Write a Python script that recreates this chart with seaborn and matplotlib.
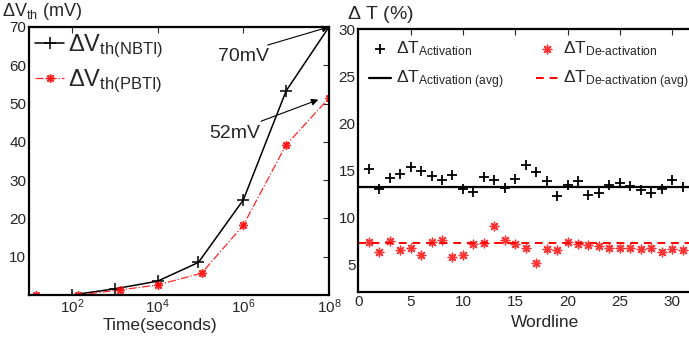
import numpy as np
import pandas as pd
import matplotlib
matplotlib.use("Agg")
import matplotlib.pyplot as plt
import seaborn as sns

# ---------------------------------------------------------
# Données
# ---------------------------------------------------------

time_nbti = [1e1, 1e2, 1e3, 1e4, 9e4, 1e6, 1e7, 1e8]
dvth_nbti = [0, 0, 1.6, 3.6, 8.5, 24.8, 53.3, 70]

time_pbti = [15, 140, 1300, 1e4, 1.07e5, 1e6, 1e7, 1e8]
dvth_pbti = [0, 0, 1.3, 2.6, 5.7, 18.2, 39.2, 51.4]

wordline = list(range(1, 32))
dt_act = [15.1, 13.0, 14.2, 14.6, 15.3, 14.9, 14.4, 13.9, 14.5, 13.0,
          12.7, 14.3, 14.0, 13.1, 14.1, 15.5, 14.8, 13.8, 12.3, 13.4,
          13.8, 12.4, 12.6, 13.4, 13.6, 13.3, 12.9, 12.6, 13.0, 14.0, 13.2]
dt_deact = [7.3, 6.3, 7.5, 6.5, 6.7, 6.0, 7.3, 7.6, 5.8, 6.0,
            7.1, 7.2, 9.1, 7.6, 7.1, 6.7, 5.1, 6.6, 6.5, 7.3,
            7.1, 7.0, 6.9, 6.7, 6.7, 6.7, 6.6, 6.7, 6.3, 6.6, 6.5]
dt_act_avg = 13.25
dt_deact_avg = 7.2

df_left = pd.DataFrame({"t_n": time_nbti, "v_n": dvth_nbti,
                        "t_p": time_pbti, "v_p": dvth_pbti})
df_right = pd.DataFrame({"wl": wordline, "act": dt_act, "deact": dt_deact})

# ---------------------------------------------------------
# Style
# ---------------------------------------------------------

sns.set_style("white")
plt.rcParams["font.family"] = ["Liberation Sans", "DejaVu Sans"]
plt.rcParams["mathtext.fontset"] = "custom"
plt.rcParams["mathtext.rm"] = "Liberation Sans"
plt.rcParams["mathtext.it"] = "Liberation Sans"
plt.rcParams["mathtext.bf"] = "Liberation Sans"

fig = plt.figure(figsize=(6.89, 3.41), dpi=100)
ax1 = fig.add_axes([0.042, 0.135, 0.4355, 0.786])
ax2 = fig.add_axes([0.520, 0.143, 0.492, 0.771])

tick_fs = 11
asterisk = (8, 2, 0)   # marqueur '*' façon MATLAB

# ---------------------------------------------------------
# Graphe de gauche : ΔVth en fonction du temps
# ---------------------------------------------------------

ax1.set_xscale("log")
sns.lineplot(data=df_left, x="t_n", y="v_n", ax=ax1, color="black",
             marker="+", markersize=8, markeredgewidth=1.1, linewidth=1.1,
             markeredgecolor="black", label=r"$\Delta$V$_{\mathrm{th(NBTI)}}$")
sns.lineplot(data=df_left, x="t_p", y="v_p", ax=ax1, color="red",
             marker=asterisk, markersize=6, markeredgewidth=1.1,
             linewidth=0.9, linestyle="-.", markeredgecolor="red",
             alpha=0.85, label=r"$\Delta$V$_{\mathrm{th(PBTI)}}$")

ax1.set_xlim(10, 1e8)
ax1.set_ylim(0, 70)
ax1.set_xticks([1e2, 1e4, 1e6, 1e8])
ax1.xaxis.set_minor_locator(matplotlib.ticker.NullLocator())
ax1.set_yticks([10, 20, 30, 40, 50, 60, 70])
ax1.set_xlabel("Time(seconds)", fontsize=12.5)
ax1.xaxis.set_label_coords(0.437, -0.085)
ax1.set_ylabel("")

ax1.annotate("70mV", xy=(1e8, 70), xytext=(10**5.42, 62.2),
             fontsize=14, ha="left", va="center",
             arrowprops=dict(arrowstyle="-|>", color="black", lw=0.8,
                             shrinkA=0, shrinkB=0, mutation_scale=10,
                             relpos=(0.75, 1.0)))
ax1.annotate("52mV", xy=(10**7.75, 51), xytext=(10**5.2, 42.3),
             fontsize=14, ha="left", va="center",
             arrowprops=dict(arrowstyle="-|>", color="black", lw=0.8,
                             shrinkA=0, shrinkB=0, mutation_scale=10,
                             relpos=(0.85, 1.0)))

ax1.legend(loc="upper left", frameon=False, fontsize=17,
           handlelength=1.25, handletextpad=0.15, borderaxespad=0.15,
           labelspacing=0.3, borderpad=0.1)

fig.text(0.003, 0.953, r"$\Delta$V$_{\mathrm{th}}$ (mV)", fontsize=13)

# ---------------------------------------------------------
# Graphe de droite : ΔT par wordline
# ---------------------------------------------------------

sns.scatterplot(data=df_right, x="wl", y="act", ax=ax2, marker="+",
                color="black", s=60, linewidth=1.3,
                label=r"$\Delta$T$_{\mathrm{Activation}}$")
sns.scatterplot(data=df_right, x="wl", y="deact", ax=ax2, marker=asterisk,
                color="red", s=38, linewidth=1.0, edgecolor="red", alpha=0.8,
                label=r"$\Delta$T$_{\mathrm{De\text{-}activation}}$")
ax2.axhline(dt_act_avg, color="black", linewidth=1.6,
            label=r"$\Delta$T$_{\mathrm{Activation\ (avg)}}$")
ax2.axhline(dt_deact_avg, color="red", linewidth=1.4, linestyle=(0, (4, 3)),
            label=r"$\Delta$T$_{\mathrm{De\text{-}activation\ (avg)}}$")

ax2.set_xlim(0, 32.4)
ax2.set_ylim(2, 30)
ax2.set_xticks([0, 5, 10, 15, 20, 25, 30])
ax2.set_yticks([5, 10, 15, 20, 25, 30])
ax2.set_xlabel("Wordline", fontsize=12.5)
ax2.xaxis.set_label_coords(0.55, -0.085)
ax2.set_ylabel("")

h, l = ax2.get_legend_handles_labels()
order = [0, 2, 1, 3]
ax2.legend([h[i] for i in order], [l[i] for i in order], loc="upper left",
           ncol=2, frameon=False, fontsize=12.5, columnspacing=1.9,
           handlelength=1.3, handletextpad=0.25, labelspacing=0.6,
           borderaxespad=0.1, borderpad=0.5)

fig.text(0.503, 0.945, r"$\Delta$ T (%)", fontsize=14)

# ---------------------------------------------------------
# Cadres et graduations façon MATLAB
# ---------------------------------------------------------

for ax in (ax1, ax2):
    for s in ax.spines.values():
        s.set_visible(True)
        s.set_color("black")
        s.set_linewidth(1.6)
    ax.tick_params(direction="in", which="both", top=True, right=True,
                   length=4, width=0.8, labelsize=tick_fs, pad=2)
    ax.grid(False)

plt.savefig("out.png", dpi=100)
